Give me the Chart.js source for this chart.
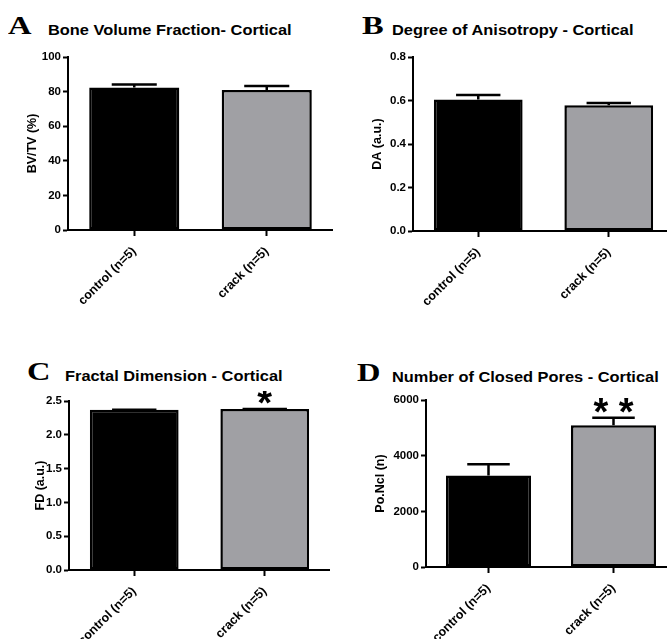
<!DOCTYPE html>
<html>
<head>
<meta charset="utf-8">
<script src="https://cdn.jsdelivr.net/npm/chart.js@4.4.1/dist/chart.umd.min.js"></script>
<style>
    html, body { margin: 0; padding: 0; background: #fff; }
    body { width: 667px; height: 639px; position: relative; overflow: hidden; }
    canvas { position: absolute; }
    .letter { position: absolute; font-family: 'Liberation Serif', 'Times New Roman', serif; font-weight: bold; font-size: 26px; line-height: 26px; color: #000; transform: scaleX(1.25); transform-origin: left top; }
    .title { position: absolute; font-family: 'Liberation Sans', Arial, sans-serif; font-weight: bold; font-size: 14px; line-height: 14px; color: #000; white-space: nowrap; transform: scaleX(1.17); transform-origin: left top; }
</style>
</head>
<body>

<div class="letter" style="left:8px; top:13px;">A</div>
<div class="title" style="left:48px; top:23px;">Bone Volume Fraction- Cortical</div>
<div class="letter" style="left:362px; top:13px;">B</div>
<div class="title" style="left:392px; top:23px;">Degree of Anisotropy - Cortical</div>
<div class="letter" style="left:27px; top:359px;">C</div>
<div class="title" style="left:65px; top:369px;">Fractal Dimension - Cortical</div>
<div class="letter" style="left:357px; top:360px;">D</div>
<div class="title" style="left:392px; top:370px;">Number of Closed Pores - Cortical</div>

<canvas id="chartA"></canvas>
<canvas id="chartB"></canvas>
<canvas id="chartC"></canvas>
<canvas id="chartD"></canvas>

<script>
// Data (mean, upper SEM bar)
const groups = ['control (n=5)', 'crack (n=5)'];

const bvtvMean = [82.3, 80.9];
const bvtvSem = [1.8, 2.4];

const daMean = [0.605, 0.578];
const daSem = [0.02, 0.01];

const fdMean = [2.37, 2.38];
const fdSem = [0.002, 0.003];

const poresMean = [3290, 5090];
const poresSem = [400, 275];

// significance marks above each group
const bvtvStars = ['', ''];
const daStars = ['', ''];
const fdStars = ['', '*'];
const poresStars = ['', '* *'];

const barColors = ['#000000', '#a0a0a4'];
const FONT = "'Liberation Sans', Arial, sans-serif";

// Upper error bars + asterisks, drawn through the y scale
const errorBarPlugin = {
    id: 'errorBars',
    afterDatasetsDraw(chart) {
        const ctx = chart.ctx;
        const yScale = chart.scales.y;
        const ds = chart.data.datasets[0];
        const meta = chart.getDatasetMeta(0);
        meta.data.forEach((bar, i) => {
            const top = yScale.getPixelForValue(ds.data[i]);
            const capY = yScale.getPixelForValue(ds.data[i] + ds.sem[i]);
            const half = bar.width / 4;
            ctx.save();
            ctx.strokeStyle = '#000';
            ctx.lineWidth = 2.5;
            ctx.beginPath();
            ctx.moveTo(bar.x, top);
            ctx.lineTo(bar.x, capY);
            ctx.moveTo(bar.x - half, capY);
            ctx.lineTo(bar.x + half, capY);
            ctx.stroke();
            if (ds.stars[i]) {
                ctx.fillStyle = '#000';
                ctx.font = 'bold 38px ' + FONT;
                ctx.textAlign = 'center';
                ctx.textBaseline = 'alphabetic';
                const m = ctx.measureText(ds.stars[i]);
                const bottom = capY - 5;
                ctx.fillText(ds.stars[i], bar.x, bottom - m.actualBoundingBoxDescent);
            }
            ctx.restore();
        });
    }
};

function makePanel(id, box, values, sem, stars, yTitle, yMax, yStep, decimals) {
    const canvas = document.getElementById(id);
    const left = box.areaLeft - box.yWidth;
    const top = box.areaTop - 10;
    canvas.width = box.areaRight - left;
    canvas.height = box.areaBottom + 100 - top;
    canvas.style.left = left + 'px';
    canvas.style.top = top + 'px';

    return new Chart(canvas.getContext('2d'), {
        type: 'bar',
        data: {
            labels: groups,
            datasets: [{
                data: values,
                sem: sem,
                stars: stars,
                backgroundColor: barColors,
                borderColor: '#000',
                borderWidth: 2.5,
                borderSkipped: false,
                barPercentage: 0.68,
                categoryPercentage: 1.0
            }]
        },
        options: {
            responsive: false,
            animation: false,
            devicePixelRatio: 1,
            layout: { padding: { top: 10, right: 0, left: 0, bottom: 0 } },
            plugins: {
                legend: { display: false },
                tooltip: { enabled: false }
            },
            scales: {
                x: {
                    afterFit: s => { s.height = 100; },
                    grid: {
                        offset: false,
                        drawOnChartArea: false,
                        tickLength: 6,
                        tickWidth: 2,
                        tickColor: '#000'
                    },
                    border: { color: '#000', width: 2 },
                    ticks: {
                        color: '#000',
                        minRotation: 45,
                        maxRotation: 45,
                        padding: 8,
                        font: { family: FONT, weight: 'bold', size: 12.5 }
                    }
                },
                y: {
                    min: 0,
                    max: yMax,
                    afterFit: s => { s.width = box.yWidth; },
                    grid: {
                        drawOnChartArea: false,
                        tickLength: 5,
                        tickWidth: 2,
                        tickColor: '#000'
                    },
                    border: { color: '#000', width: 2 },
                    ticks: {
                        stepSize: yStep,
                        color: '#000',
                        padding: 2,
                        font: { family: FONT, weight: 'bold', size: 11.5 },
                        callback: v => v.toFixed(decimals)
                    },
                    title: {
                        display: true,
                        text: yTitle,
                        color: '#000',
                        padding: { top: 4, bottom: 0 },
                        font: { family: FONT, weight: 'bold', size: 12.5 }
                    }
                }
            }
        },
        plugins: [errorBarPlugin]
    });
}

makePanel('chartA', { areaLeft: 68, areaRight: 333, areaTop: 57, areaBottom: 230, yWidth: 47 },
    bvtvMean, bvtvSem, bvtvStars, 'BV/TV (%)', 100, 20, 0);
makePanel('chartB', { areaLeft: 413, areaRight: 674, areaTop: 57, areaBottom: 231, yWidth: 47 },
    daMean, daSem, daStars, 'DA (a.u.)', 0.8, 0.2, 1);
makePanel('chartC', { areaLeft: 69, areaRight: 330, areaTop: 401, areaBottom: 570, yWidth: 40 },
    fdMean, fdSem, fdStars, 'FD (a.u.)', 2.5, 0.5, 1);
makePanel('chartD', { areaLeft: 426, areaRight: 676, areaTop: 400, areaBottom: 567, yWidth: 57 },
    poresMean, poresSem, poresStars, 'Po.Ncl (n)', 6000, 2000, 0);
</script>
</body>
</html>
